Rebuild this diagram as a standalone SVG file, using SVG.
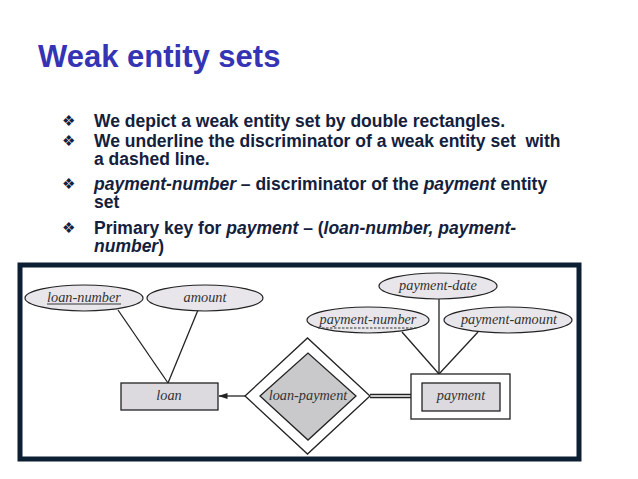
<svg xmlns="http://www.w3.org/2000/svg" width="638" height="479" viewBox="0 0 638 479">
<defs>
<style>
.title{font-family:"Liberation Sans",Arial,sans-serif;font-weight:bold;font-size:31px;fill:#3434b4}
.b{font-family:"Liberation Sans",Arial,sans-serif;font-weight:bold;font-size:17.5px;fill:#14213d}
.i{font-style:italic}
.bul{font-family:"DejaVu Sans",sans-serif;font-size:15px;fill:#14213d}
.er{font-family:"Liberation Serif","Times New Roman",serif;font-style:italic;font-size:14.3px;fill:#333;text-anchor:middle}
.attr{fill:#e8e6ea;stroke:#222;stroke-width:1.2}
.ln{stroke:#222;stroke-width:1.3;fill:none}
</style>
<marker id="arr" markerWidth="9" markerHeight="7" refX="8.5" refY="3.5" orient="auto" markerUnits="userSpaceOnUse">
<path d="M0,0.5 L9,3.5 L0,6.5 Z" fill="#222"/>
</marker>
</defs>
<rect width="638" height="479" fill="#fff"/>
<text class="title" x="38" y="67">Weak entity sets</text>
<g id="bullets">
<text class="bul" x="62" y="126">❖</text>
<text class="b" x="94" y="127">We depict a weak entity set by double rectangles.</text>
<text class="bul" x="62" y="146">❖</text>
<text class="b" x="94" y="147" xml:space="preserve">We underline the discriminator of a weak entity set  with</text>
<text class="b" x="94" y="165">a dashed line.</text>
<text class="bul" x="62" y="189">❖</text>
<text class="b" x="94" y="190"><tspan class="i">payment-number</tspan> – discriminator of the <tspan class="i">payment</tspan> entity</text>
<text class="b" x="94" y="208">set</text>
<text class="bul" x="62" y="233">❖</text>
<text class="b" x="94" y="234">Primary key for <tspan class="i">payment</tspan> – (<tspan class="i">loan-number, payment-</tspan></text>
<text class="b" x="94" y="252"><tspan class="i">number</tspan>)</text>
</g>
<rect x="20" y="265" width="559" height="194" fill="#fff" stroke="#0d1f33" stroke-width="5"/>
<g id="connectors">
<line class="ln" x1="118" y1="310" x2="168" y2="383"/>
<line class="ln" x1="198" y1="310" x2="168" y2="383"/>
<line class="ln" x1="245" y1="396" x2="219" y2="396" marker-end="url(#arr)"/>
<line class="ln" x1="370" y1="394.5" x2="411" y2="394.5" stroke-width="1.1"/>
<line class="ln" x1="370" y1="397.5" x2="411" y2="397.5" stroke-width="1.1"/>
<line class="ln" x1="439" y1="299" x2="439" y2="374"/>
<line class="ln" x1="402" y1="332" x2="439" y2="374"/>
<line class="ln" x1="478" y1="332" x2="439" y2="374"/>
</g>
<g id="loan-number">
<ellipse class="attr" cx="84" cy="298" rx="59" ry="13"/>
<text class="er" x="84" y="302">loan-number</text>
<line x1="47" y1="304" x2="121" y2="304" stroke="#333" stroke-width="1"/>
</g>
<g id="amount">
<ellipse class="attr" cx="205" cy="298" rx="58" ry="13"/>
<text class="er" x="205" y="302">amount</text>
</g>
<g id="loan">
<rect x="121" y="383" width="97" height="27" fill="#dcdadf" stroke="#222" stroke-width="1.3"/>
<text class="er" x="169" y="400">loan</text>
</g>
<g id="loan-payment">
<polygon points="245,396 307.5,338 370,396 307.5,454" fill="#fff" stroke="#222" stroke-width="1.3"/>
<polygon points="260,396 308,353 356,396 308,440" fill="#c9c9cb" stroke="#222" stroke-width="1.3"/>
<text class="er" x="308" y="400">loan-payment</text>
</g>
<g id="payment">
<rect x="411" y="374" width="99" height="45" fill="#fff" stroke="#222" stroke-width="1.3"/>
<rect x="422" y="383" width="78" height="28" fill="#dcdadf" stroke="#222" stroke-width="1.3"/>
<text class="er" x="461" y="400">payment</text>
</g>
<g id="payment-date">
<ellipse class="attr" cx="438" cy="286" rx="59" ry="13"/>
<text class="er" x="438" y="290">payment-date</text>
</g>
<g id="payment-number">
<ellipse class="attr" cx="368" cy="320" rx="61" ry="13"/>
<text class="er" x="368" y="324">payment-number</text>
<line x1="318" y1="328" x2="417" y2="328" stroke="#333" stroke-width="1" stroke-dasharray="2.5,1.5"/>
</g>
<g id="payment-amount">
<ellipse class="attr" cx="508" cy="320" rx="64" ry="13"/>
<text class="er" x="509" y="324">payment-amount</text>
</g>
</svg>
